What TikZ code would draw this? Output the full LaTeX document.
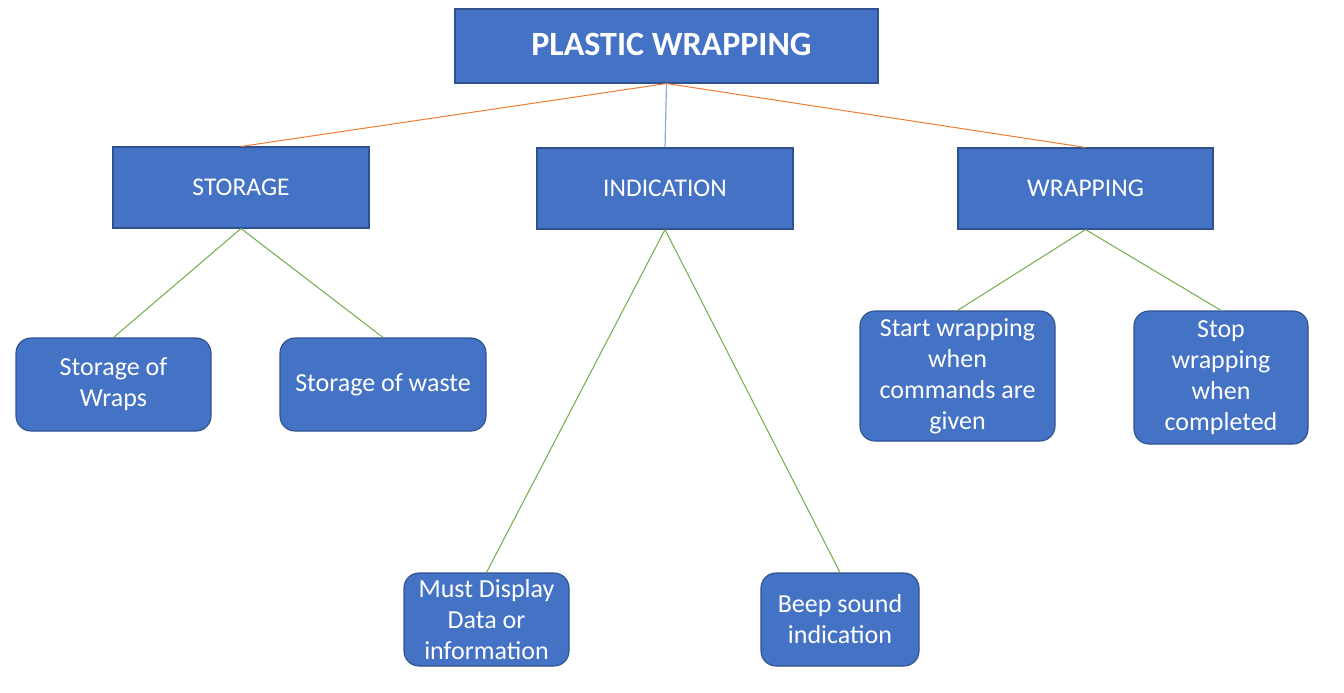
\documentclass[tikz,border=0pt]{standalone}
\usepackage{fontspec}
\setmainfont{Carlito}
\definecolor{boxfill}{HTML}{4472C4}
\definecolor{boxline}{HTML}{2F528F}
\definecolor{orangeline}{HTML}{ED7D31}
\definecolor{greenline}{HTML}{70AD47}
\definecolor{blueline}{HTML}{8FAADC}
\begin{document}
\begin{tikzpicture}[x=1pt,y=-1pt,
  topbox/.style={draw=boxline,fill=boxfill,line width=1.1pt,minimum width=423pt,minimum height=74pt,inner sep=0pt,text=white,font=\fontsize{34}{40}\selectfont\bfseries},
  midbox/.style={draw=boxline,fill=boxfill,line width=1.1pt,minimum height=81pt,inner sep=0pt,text=white,font=\fontsize{25.5}{30}\selectfont},
  leafbox/.style={draw=boxline,fill=boxfill,line width=1.1pt,rounded corners=15pt,inner sep=0pt,text=white,align=center,font=\fontsize{26}{31}\selectfont},
  orangelink/.style={draw=orangeline,line width=1pt},
  bluelink/.style={draw=blueline,line width=1.2pt},
  greenlink/.style={draw=greenline,line width=1pt}]
\useasboundingbox (0,0) rectangle (1344,693);
\node[topbox] (top) at (666.5,46) {\raisebox{3pt}{\hspace*{10pt}PLASTIC WRAPPING}};
\node[midbox,minimum width=256pt] (storage) at (241,187.5) {STORAGE};
\node[midbox,minimum width=256pt] (indication) at (665,188.5) {INDICATION};
\node[midbox,minimum width=255pt] (wrapping) at (1085.5,188.5) {WRAPPING};
\node[leafbox,minimum width=195pt,minimum height=93pt] (wraps) at (113.5,384.5) {Storage of\\Wraps};
\node[leafbox,minimum width=206pt,minimum height=93pt] (waste) at (383,384.5) {Storage of waste};
\node[leafbox,minimum width=195pt,minimum height=130pt] (start) at (957.5,376) {Start wrapping\\when\\commands are\\given};
\node[leafbox,minimum width=174pt,minimum height=133pt] (stop) at (1221,377.5) {Stop\\wrapping\\when\\completed};
\node[leafbox,minimum width=165pt,minimum height=93pt] (display) at (486.5,619.5) {Must Display\\Data or\\information};
\node[leafbox,minimum width=158pt,minimum height=93pt] (beep) at (840,619.5) {Beep sound\\indication};
\draw[orangelink] (top.south) -- (storage.north);
\draw[orangelink] (top.south) -- (wrapping.north);
\draw[bluelink] (top.south) -- (indication.north);
\draw[greenlink] (storage.south) -- (wraps.north);
\draw[greenlink] (storage.south) -- (waste.north);
\draw[greenlink] (indication.south) -- (display.north);
\draw[greenlink] (indication.south) -- (beep.north);
\draw[greenlink] (wrapping.south) -- (start.north);
\draw[greenlink] (wrapping.south) -- (stop.north);
\end{tikzpicture}
\end{document}
